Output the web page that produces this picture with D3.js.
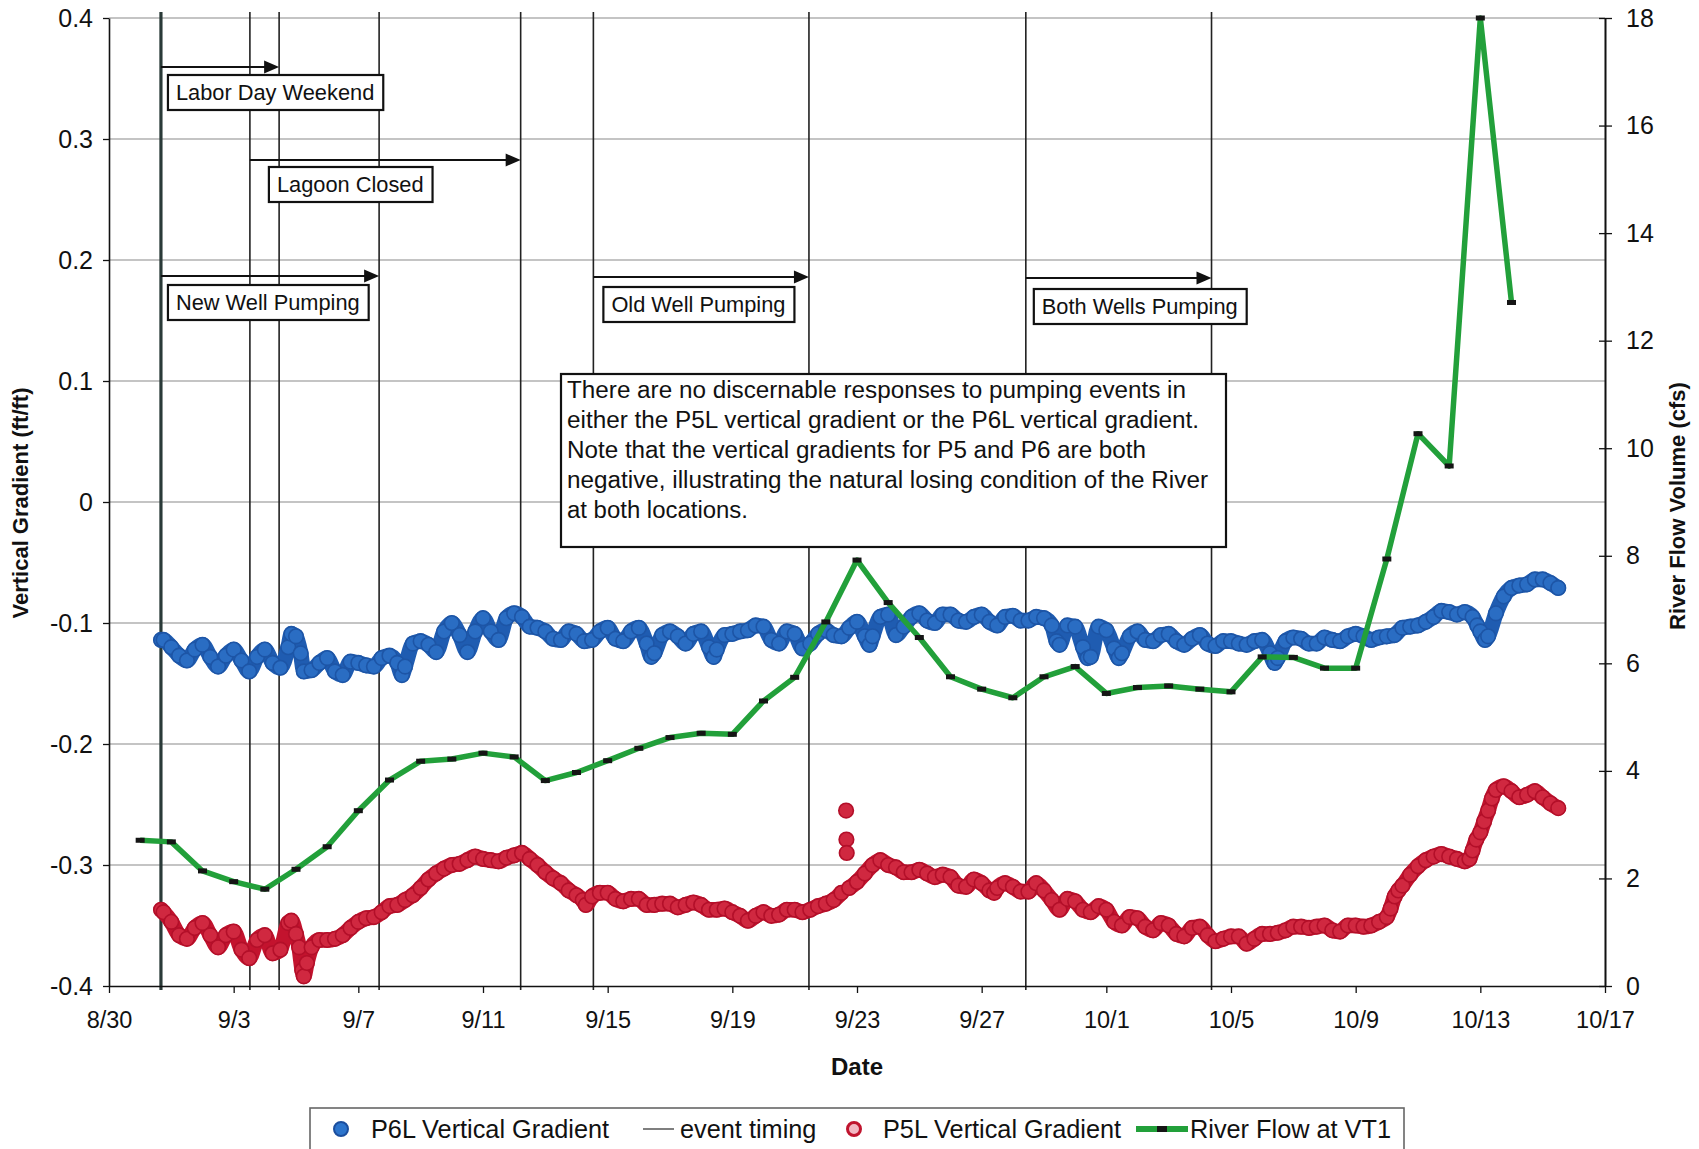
<!DOCTYPE html>
<html><head><meta charset="utf-8">
<script src="https://cdn.jsdelivr.net/npm/d3@7"></script>
<style>
html,body{margin:0;padding:0;background:#fff;}
svg{display:block;font-family:"Liberation Sans",Arial,Helvetica,sans-serif;}
</style></head><body>
<svg id="chart" width="1699" height="1149"></svg>
<script>
// ================= DATA =================
// x positions are days after 30 Aug 2007 00:00
const dateTicks = ["2007-08-30","2007-09-03","2007-09-07","2007-09-11","2007-09-15","2007-09-19","2007-09-23","2007-09-27","2007-10-01","2007-10-05","2007-10-09","2007-10-13","2007-10-17"];
const gradientTicks = [-0.4,-0.3,-0.2,-0.1,0,0.1,0.2,0.3,0.4];
const flowTicks = [0,2,4,6,8,10,12,14,16,18];

// River Flow at VT1 (cfs), daily
const flowDay = [1,2,3,4,5,6,7,8,9,10,11,12,13,14,15,16,17,18,19,20,21,22,23,24,25,26,27,28,29,30,31,32,33,34,35,36,37,38,39,40,41,42,43,44,45];
const flowCfs = [2.71,2.68,2.14,1.94,1.80,2.17,2.59,3.26,3.83,4.18,4.22,4.33,4.26,3.82,3.97,4.19,4.42,4.62,4.70,4.68,5.30,5.74,6.77,7.92,7.13,6.48,5.75,5.52,5.36,5.75,5.94,5.44,5.55,5.58,5.52,5.47,6.12,6.11,5.91,5.91,7.94,10.27,9.67,18.0,12.71];

// P6L Vertical Gradient [day, ft/ft]
const p6l = [
[1.67,-0.114],[1.75,-0.114],[2.0,-0.120],[2.25,-0.127],[2.5,-0.131],[2.75,-0.122],[3.0,-0.118],[3.25,-0.128],[3.5,-0.136],[3.75,-0.127],[4.0,-0.122],[4.25,-0.131],[4.5,-0.140],[4.75,-0.128],[5.0,-0.122],[5.25,-0.133],[5.5,-0.137],[5.75,-0.120],[5.85,-0.109],[6.0,-0.111],[6.15,-0.125],[6.25,-0.140],[6.5,-0.139],[6.75,-0.133],[7.0,-0.129],[7.25,-0.140],[7.5,-0.143],[7.75,-0.132],[8.0,-0.133],[8.25,-0.135],[8.5,-0.136],[8.75,-0.129],[9.0,-0.127],[9.25,-0.133],[9.4,-0.143],[9.5,-0.136],[9.75,-0.117],[10.0,-0.115],[10.25,-0.118],[10.5,-0.124],[10.75,-0.107],[11.0,-0.100],[11.25,-0.110],[11.5,-0.124],[11.75,-0.107],[12.0,-0.096],[12.25,-0.107],[12.5,-0.114],[12.75,-0.096],[13.0,-0.092],
[13.25,-0.095],[13.5,-0.103],[13.75,-0.104],[14.0,-0.107],[14.25,-0.113],[14.5,-0.114],[14.75,-0.107],[15.0,-0.109],[15.25,-0.115],[15.5,-0.114],[15.75,-0.107],[16.0,-0.104],[16.25,-0.113],[16.5,-0.115],[16.75,-0.107],[17.0,-0.104],[17.25,-0.117],[17.4,-0.128],[17.5,-0.125],[17.75,-0.110],[18.0,-0.107],[18.25,-0.111],[18.5,-0.117],[18.75,-0.109],[19.0,-0.107],[19.25,-0.120],[19.4,-0.128],[19.5,-0.122],[19.75,-0.110],[20.0,-0.109],[20.25,-0.107],[20.5,-0.106],[20.75,-0.102],[21.0,-0.103],[21.25,-0.114],[21.5,-0.117],[21.75,-0.107],[22.0,-0.109],[22.25,-0.121],[22.5,-0.117],[22.75,-0.109],[23.0,-0.106],[23.25,-0.110],[23.5,-0.111],[23.75,-0.104],[24.0,-0.099],[24.25,-0.111],[24.4,-0.118],[24.5,-0.111],[24.75,-0.095],
[25.0,-0.093],[25.25,-0.110],[25.5,-0.103],[25.75,-0.095],[26.0,-0.092],[26.25,-0.098],[26.5,-0.100],[26.75,-0.093],[27.0,-0.093],[27.25,-0.098],[27.5,-0.099],[27.75,-0.095],[28.0,-0.093],[28.25,-0.099],[28.5,-0.102],[28.75,-0.095],[29.0,-0.094],[29.25,-0.098],[29.5,-0.098],[29.75,-0.095],[30.0,-0.096],[30.25,-0.102],[30.4,-0.115],[30.5,-0.118],[30.75,-0.102],[31.0,-0.103],[31.25,-0.120],[31.4,-0.129],[31.5,-0.128],[31.75,-0.103],[32.0,-0.106],[32.25,-0.121],[32.4,-0.129],[32.5,-0.125],[32.75,-0.111],[33.0,-0.107],[33.25,-0.114],[33.5,-0.115],[33.75,-0.110],[34.0,-0.109],[34.25,-0.115],[34.5,-0.118],[34.75,-0.113],[35.0,-0.110],[35.25,-0.117],[35.5,-0.119],[35.75,-0.115],[36.0,-0.115],
[36.25,-0.117],[36.5,-0.118],[36.75,-0.115],[37.0,-0.114],[37.25,-0.125],[37.4,-0.133],[37.5,-0.129],[37.75,-0.115],[38.0,-0.112],[38.25,-0.113],[38.5,-0.117],[38.75,-0.117],[39.0,-0.112],[39.25,-0.114],[39.5,-0.115],[39.75,-0.111],[40.0,-0.109],[40.25,-0.111],[40.5,-0.114],[40.75,-0.112],[41.0,-0.111],[41.25,-0.110],[41.5,-0.104],[41.75,-0.103],[42.0,-0.102],[42.25,-0.099],[42.5,-0.095],[42.75,-0.090],[43.0,-0.091],[43.25,-0.093],[43.5,-0.091],[43.75,-0.095],[43.9,-0.102],[44.0,-0.107],[44.15,-0.114],[44.25,-0.111],[44.5,-0.092],[44.75,-0.078],[45.0,-0.071],[45.25,-0.069],[45.5,-0.068],[45.75,-0.064],[46.0,-0.064],[46.25,-0.067],[46.5,-0.071]
];

// P5L Vertical Gradient [day, ft/ft]
const p5l = [
[1.67,-0.337],[1.75,-0.339],[2.0,-0.347],[2.25,-0.358],[2.5,-0.361],[2.75,-0.352],[3.0,-0.348],[3.25,-0.358],[3.5,-0.368],[3.75,-0.358],[4.0,-0.355],[4.25,-0.370],[4.5,-0.377],[4.75,-0.362],[5.0,-0.358],[5.25,-0.373],[5.5,-0.370],[5.75,-0.348],[5.85,-0.346],[6.0,-0.357],[6.1,-0.368],[6.2,-0.387],[6.25,-0.392],[6.35,-0.381],[6.5,-0.368],[6.75,-0.362],[7.0,-0.362],[7.25,-0.361],[7.5,-0.358],[7.75,-0.352],[8.0,-0.347],[8.25,-0.344],[8.5,-0.343],[8.75,-0.339],[9.0,-0.334],[9.25,-0.333],[9.5,-0.329],[9.75,-0.325],[10.0,-0.319],[10.25,-0.312],[10.5,-0.307],[10.75,-0.303],[11.0,-0.300],[11.25,-0.299],[11.5,-0.296],[11.75,-0.293],[12.0,-0.295],[12.25,-0.296],[12.5,-0.297],[12.75,-0.294],[13.0,-0.292],
[13.25,-0.290],[13.5,-0.295],[13.75,-0.300],[14.0,-0.306],[14.25,-0.311],[14.5,-0.315],[14.75,-0.321],[15.0,-0.325],[15.2,-0.329],[15.3,-0.333],[15.5,-0.326],[15.75,-0.323],[16.0,-0.323],[16.25,-0.328],[16.5,-0.330],[16.75,-0.328],[17.0,-0.328],[17.25,-0.333],[17.5,-0.333],[17.75,-0.332],[18.0,-0.332],[18.25,-0.335],[18.5,-0.333],[18.75,-0.331],[19.0,-0.333],[19.25,-0.337],[19.5,-0.337],[19.75,-0.336],[20.0,-0.339],[20.25,-0.342],[20.5,-0.346],[20.75,-0.342],[21.0,-0.339],[21.25,-0.342],[21.5,-0.341],[21.75,-0.337],[22.0,-0.337],[22.25,-0.339],[22.5,-0.337],[22.75,-0.334],[23.0,-0.332],[23.25,-0.329],[23.5,-0.323],[23.65,-0.255],[23.66,-0.279],[23.67,-0.290],[23.75,-0.319],[24.0,-0.314],[24.25,-0.307],[24.5,-0.300],[24.75,-0.296],
[25.0,-0.300],[25.25,-0.302],[25.5,-0.306],[25.75,-0.306],[26.0,-0.304],[26.25,-0.307],[26.5,-0.310],[26.75,-0.308],[27.0,-0.310],[27.25,-0.317],[27.5,-0.318],[27.75,-0.312],[28.0,-0.315],[28.25,-0.321],[28.4,-0.323],[28.5,-0.319],[28.75,-0.315],[29.0,-0.318],[29.25,-0.322],[29.5,-0.322],[29.75,-0.315],[30.0,-0.321],[30.25,-0.329],[30.5,-0.337],[30.75,-0.328],[31.0,-0.330],[31.25,-0.337],[31.5,-0.339],[31.75,-0.334],[32.0,-0.337],[32.25,-0.347],[32.5,-0.350],[32.75,-0.343],[33.0,-0.344],[33.25,-0.351],[33.5,-0.354],[33.75,-0.348],[34.0,-0.350],[34.25,-0.357],[34.5,-0.359],[34.75,-0.352],[35.0,-0.351],[35.25,-0.358],[35.5,-0.363],[35.75,-0.361],[36.0,-0.359],
[36.25,-0.359],[36.5,-0.365],[36.75,-0.361],[37.0,-0.357],[37.25,-0.357],[37.5,-0.356],[37.75,-0.354],[38.0,-0.351],[38.25,-0.351],[38.5,-0.352],[38.75,-0.351],[39.0,-0.350],[39.25,-0.354],[39.5,-0.355],[39.75,-0.350],[40.0,-0.350],[40.25,-0.351],[40.5,-0.350],[40.75,-0.347],[41.0,-0.343],[41.12,-0.336],[41.25,-0.326],[41.37,-0.321],[41.5,-0.317],[41.75,-0.308],[42.0,-0.301],[42.25,-0.296],[42.5,-0.293],[42.75,-0.291],[43.0,-0.293],[43.25,-0.295],[43.5,-0.297],[43.65,-0.295],[43.75,-0.288],[43.87,-0.279],[44.0,-0.273],[44.12,-0.264],[44.25,-0.255],[44.37,-0.245],[44.5,-0.238],[44.75,-0.235],[45.0,-0.239],[45.25,-0.244],[45.5,-0.242],[45.75,-0.239],[46.0,-0.244],[46.25,-0.249],[46.5,-0.253]
];

// Event timing
const eventNames  = ["Labor Day Weekend","Lagoon Closed","New Well Pumping","Old Well Pumping","Both Wells Pumping"];
const eventStarts = ["2007-08-31 16:00","2007-09-03 12:30","2007-08-31 16:00","2007-09-14 13:00","2007-09-28 10:00"];
const eventEnds   = ["2007-09-04 11:00","2007-09-12 05:00","2007-09-07 16:00","2007-09-21 11:00","2007-10-04 09:00"];

const noteLines = [
 "There are no discernable responses to pumping events in",
 "either the P5L vertical gradient or the P6L vertical gradient.",
 "Note that the vertical gradients for P5 and P6 are both",
 "negative, illustrating the natural losing condition of the River",
 "at both locations."
];
const legendLabels = ["P6L Vertical Gradient","event timing","P5L Vertical Gradient","River Flow at VT1"];

// ================= LAYOUT =================
const M = {left:109, right:1605, top:18, bottom:986};
const eventLayout = [
  {arrowY:67,  boxDx:7,  boxDy:8},
  {arrowY:160, boxDx:19, boxDy:7},
  {arrowY:276, boxDx:7,  boxDy:9},
  {arrowY:277, boxDx:10, boxDy:10},
  {arrowY:278, boxDx:8,  boxDy:11}
];
const noteWidths = [619,632,579,641,181];
const FONT = '"Liberation Sans",Arial,Helvetica,sans-serif';

const parseDay = d3.timeParse("%Y-%m-%d");
const parseTime = d3.timeParse("%Y-%m-%d %H:%M");
const base = parseDay("2007-08-30");
const dayToDate = t => new Date(base.getTime() + t*864e5);

const svg = d3.select("#chart");
svg.append("rect").attr("width",1699).attr("height",1149).attr("fill","#fff");

const x = d3.scaleTime().domain([parseDay(dateTicks[0]), parseDay(dateTicks[dateTicks.length-1])]).range([M.left, M.right]);
const yL = d3.scaleLinear().domain([-0.4,0.4]).range([M.bottom, M.top]);
const yR = d3.scaleLinear().domain([0,18]).range([M.bottom, M.top]);

// gridlines
svg.append("g").selectAll("line").data(gradientTicks.filter(v=>v>-0.35)).join("line")
  .attr("x1",M.left).attr("x2",M.right).attr("y1",d=>yL(d)).attr("y2",d=>yL(d))
  .attr("stroke","#8a8a8a").attr("stroke-width",1.2);

// event vertical lines
const evTimes = {};
eventStarts.concat(eventEnds).forEach(s=>{ evTimes[s]=(evTimes[s]||0)+1; });
svg.append("g").selectAll("line").data(Object.entries(evTimes)).join("line")
  .attr("x1",d=>x(parseTime(d[0]))).attr("x2",d=>x(parseTime(d[0])))
  .attr("y1",12).attr("y2",M.bottom+4)
  .attr("stroke",d=>d[1]>1?"#2a3a38":"#222").attr("stroke-width",d=>d[1]>1?3.2:1.6);

// axes
function styleAxis(size){ return g=>{
  g.attr("font-family",FONT).attr("font-size",size);
  g.selectAll("text").attr("fill","#111");
  g.selectAll("line").attr("stroke","#111").attr("stroke-width",1.3);
  g.select(".domain").attr("stroke","#111").attr("stroke-width",1.6);
};}
const fmtG = v => Math.abs(v)<1e-9 ? "0" : v.toFixed(1);
svg.append("g").attr("transform",`translate(${M.left},0)`)
  .call(d3.axisLeft(yL).tickValues(gradientTicks).tickFormat(fmtG).tickSize(6).tickPadding(10).tickSizeOuter(0))
  .call(styleAxis(25));
svg.append("g").attr("transform",`translate(0,${M.bottom})`)
  .call(d3.axisBottom(x).tickValues(dateTicks.map(parseDay)).tickFormat(d3.timeFormat("%-m/%-d")).tickSize(7).tickPadding(18).tickSizeOuter(0))
  .call(styleAxis(23.5));
svg.append("g").attr("transform",`translate(${M.right},0)`)
  .call(d3.axisRight(yR).tickValues(flowTicks).tickSize(7).tickPadding(14).tickSizeOuter(0))
  .call(styleAxis(25));
svg.append("g").attr("transform",`translate(${M.right},0)`)
  .call(d3.axisLeft(yR).tickValues(flowTicks).tickFormat("").tickSize(6).tickSizeOuter(0))
  .call(styleAxis(25));

// axis titles
svg.append("text").attr("transform","translate(28,503) rotate(-90)").attr("text-anchor","middle")
  .attr("font-family",FONT).attr("font-weight","bold").attr("font-size",22).attr("fill","#111")
  .text("Vertical Gradient (ft/ft)");
svg.append("text").attr("transform","translate(1685,506) rotate(-90)").attr("text-anchor","middle")
  .attr("font-family",FONT).attr("font-weight","bold").attr("font-size",22).attr("fill","#111")
  .text("River Flow Volume (cfs)");
svg.append("text").attr("x",857).attr("y",1075).attr("text-anchor","middle")
  .attr("font-family",FONT).attr("font-weight","bold").attr("font-size",24).attr("fill","#111")
  .text("Date");

// dense marker series: band of overlapping markers (band broken at isolated outlier jumps)
function drawSeries(data, bandColor, fill, stroke){
  const segs = [];
  let cur = [];
  data.forEach((d,i)=>{
    if (i>0) {
      const p = data[i-1];
      const slope = Math.abs(d[1]-p[1]) / Math.max(d[0]-p[0], 1e-6);
      if (slope > 0.3) { segs.push(cur); cur=[]; }
    }
    cur.push(d);
  });
  segs.push(cur);
  const line = d3.line().x(d=>x(dayToDate(d[0]))).y(d=>yL(d[1])).curve(d3.curveMonotoneX);
  const g = svg.append("g");
  g.selectAll("path").data(segs.filter(s=>s.length>1)).join("path")
    .attr("d",line).attr("fill","none").attr("stroke",bandColor).attr("stroke-width",15.5)
    .attr("stroke-linecap","round").attr("stroke-linejoin","round");
  g.selectAll("circle").data(data).join("circle")
    .attr("cx",d=>x(dayToDate(d[0]))).attr("cy",d=>yL(d[1])).attr("r",7.3)
    .attr("fill",fill).attr("stroke",stroke).attr("stroke-width",1.6);
}
drawSeries(p6l, "#1f5cb1", "#2a6dc3", "#1d55a6");
drawSeries(p5l, "#c3132e", "#d02840", "#b30f29");

// River flow line
const flow = flowDay.map((d,i)=>[d, flowCfs[i]]);
svg.append("path").datum(flow)
  .attr("d", d3.line().x(d=>x(dayToDate(d[0]))).y(d=>yR(d[1])))
  .attr("fill","none").attr("stroke","#22a03a").attr("stroke-width",5.5).attr("stroke-linejoin","round");
svg.append("g").selectAll("rect").data(flow).join("rect")
  .attr("x",d=>x(dayToDate(d[0]))-4.5).attr("y",d=>yR(d[1])-2.5).attr("width",9).attr("height",5)
  .attr("fill","#151515");

// event arrows and labels
const evG = svg.append("g");
eventNames.forEach((name,i)=>{
  const L = eventLayout[i];
  const x0 = x(parseTime(eventStarts[i])), x1 = x(parseTime(eventEnds[i]));
  evG.append("line").attr("x1",x0).attr("x2",x1-12).attr("y1",L.arrowY).attr("y2",L.arrowY)
    .attr("stroke","#111").attr("stroke-width",2.2);
  evG.append("path").attr("d",`M${x1},${L.arrowY} L${x1-15},${L.arrowY-6.5} L${x1-15},${L.arrowY+6.5} Z`).attr("fill","#111");
  const bx = x0 + L.boxDx, by = L.arrowY + L.boxDy;
  const box = evG.append("rect").attr("x",bx).attr("y",by).attr("height",35)
    .attr("fill","#fff").attr("stroke","#111").attr("stroke-width",2.2);
  const t = evG.append("text").attr("x",bx+8).attr("y",by+25)
    .attr("font-family",FONT).attr("font-size",21.8).attr("fill","#111").text(name);
  box.attr("width", t.node().getComputedTextLength()+17);
});

// note box
svg.append("rect").attr("x",561).attr("y",374).attr("width",665).attr("height",173)
  .attr("fill","#fff").attr("stroke","#111").attr("stroke-width",2.2);
svg.append("g").selectAll("text").data(noteLines).join("text")
  .attr("x",567).attr("y",(d,i)=>398+i*30.1)
  .attr("font-family",FONT).attr("font-size",23).attr("fill","#111")
  .attr("textLength",(d,i)=>noteWidths[i]).attr("lengthAdjust","spacingAndGlyphs").text(d=>d);

// legend
const lg = svg.append("g");
lg.append("rect").attr("x",310).attr("y",1108).attr("width",1094).attr("height",60)
  .attr("fill","#fff").attr("stroke","#666").attr("stroke-width",1.6);
const ly = 1129;
lg.append("circle").attr("cx",341).attr("cy",ly).attr("r",7).attr("fill","#2c74cc").attr("stroke","#1b4e9e").attr("stroke-width",2);
lg.append("line").attr("x1",643).attr("x2",674).attr("y1",ly).attr("y2",ly).attr("stroke","#555").attr("stroke-width",1.5);
lg.append("circle").attr("cx",854).attr("cy",ly).attr("r",6.5).attr("fill","#f2b8c3").attr("stroke","#c0142e").attr("stroke-width",3);
lg.append("line").attr("x1",1136).attr("x2",1188).attr("y1",ly).attr("y2",ly).attr("stroke","#22a03a").attr("stroke-width",6);
lg.append("rect").attr("x",1157).attr("y",ly-3).attr("width",10).attr("height",6).attr("fill","#151515");
const lx = [371,680,883,1190];
lg.selectAll("text").data(legendLabels).join("text")
  .attr("x",(d,i)=>lx[i]).attr("y",ly+9)
  .attr("font-family",FONT).attr("font-size",25.3).attr("fill","#111").text(d=>d);
</script>
</body></html>
